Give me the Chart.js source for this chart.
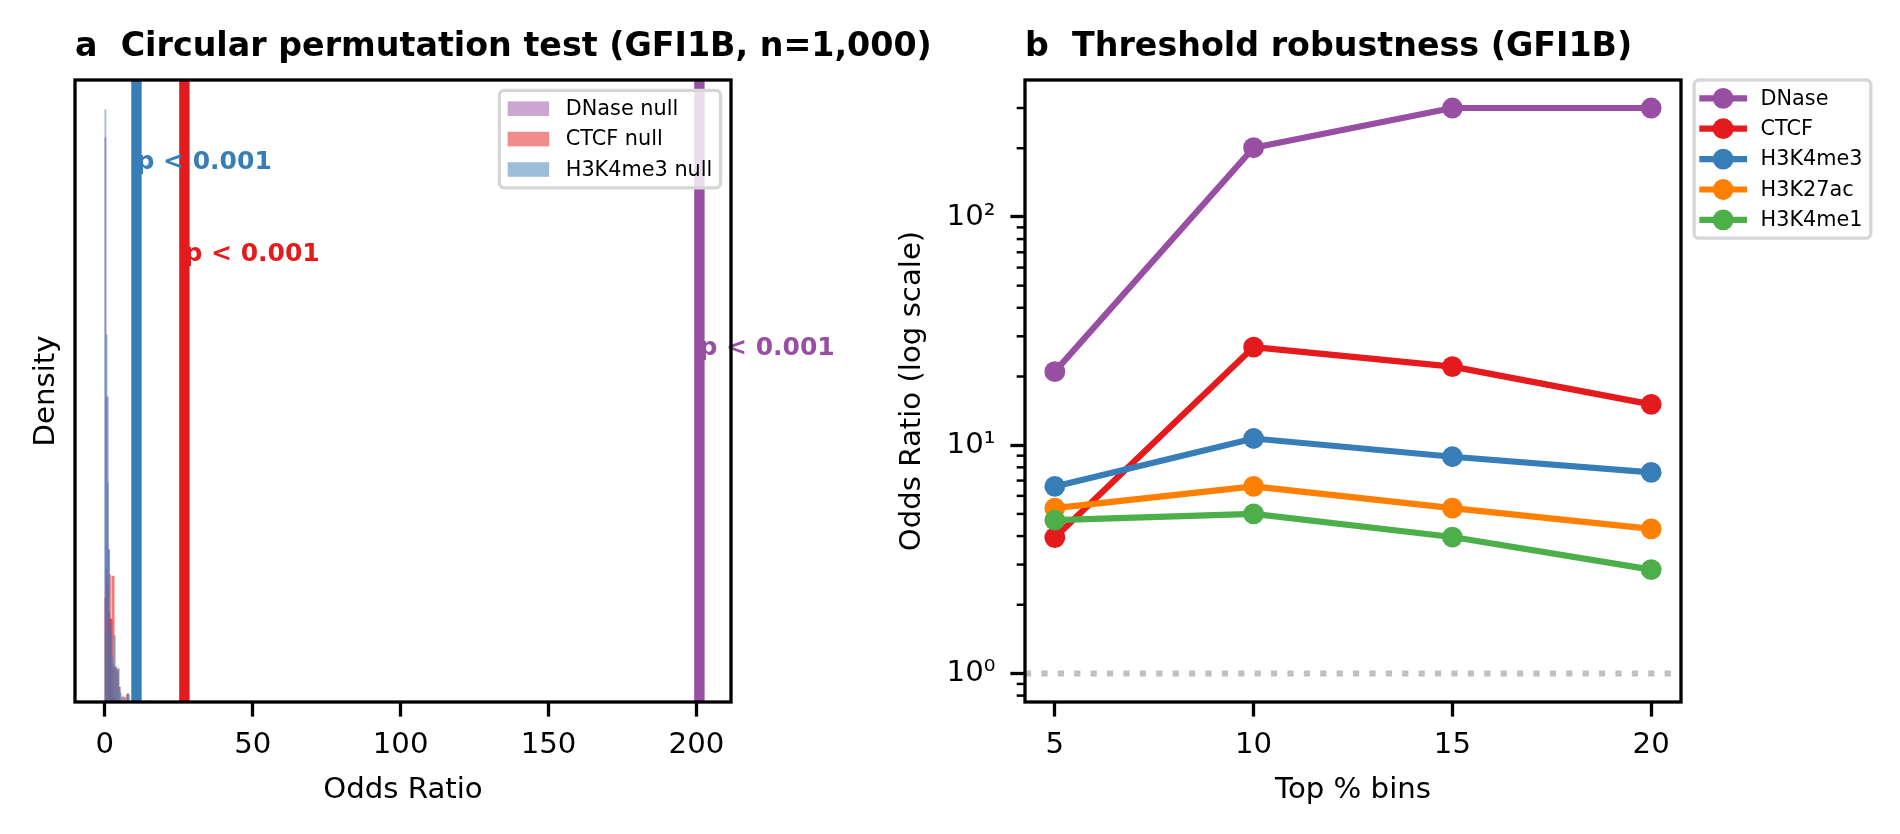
<!DOCTYPE html>
<html>
<head>
<meta charset="utf-8">
<title>GFI1B permutation test and threshold robustness</title>
<script src="https://cdn.jsdelivr.net/npm/chart.js@4.4.1/dist/chart.umd.min.js"></script>
<style>
  html, body { margin: 0; padding: 0; background: #fff; }
  #wrap { position: relative; width: 1900px; height: 834px; overflow: hidden; }
  canvas { position: absolute; top: 0; }
  #permChart { left: 0; }
  #threshChart { left: 860px; }
</style>
</head>
<body>
<div id="wrap">
  <canvas id="permChart" width="1000" height="834"></canvas>
  <canvas id="threshChart" width="1040" height="834"></canvas>
</div>
<script>
// ---- panel a: circular permutation nulls (bin centres, density) ----
const dnaseNullBins = [0.2, 0.6, 1.0, 1.4, 1.8, 2.2, 2.6, 3.0];
const dnaseNullDensity = [3.81, 2.06, 2.06, 1.03, 0.56, 0.56, 0.23, 0.03];
const ctcfNullBins = [0.2, 0.6, 1.0, 1.4, 1.8, 2.2, 2.6, 3.0, 3.4, 3.8, 4.2, 4.6, 5.0, 5.8, 6.6, 7.4, 7.8, 15.4];
const ctcfNullDensity = [0.7, 0.9, 0.8, 0.6, 0.86, 0.56, 0.85, 0.85, 0.23, 0.23, 0.22, 0.22, 0.1, 0.03, 0.03, 0.05, 0.05, 0.01];
const h3k4me3NullBins = [0.2, 0.6, 1.0, 1.4, 1.8, 2.2, 2.6, 3.0, 3.4, 3.8, 4.2, 4.6, 5.0, 5.4, 6.2, 7.0, 7.8, 8.2];
const h3k4me3NullDensity = [4.0, 2.48, 1.48, 1.03, 0.52, 0.45, 0.3, 0.25, 0.45, 0.24, 0.2, 0.23, 0.1, 0.06, 0.04, 0.03, 0.06, 0.05];

const nullLabels = ["DNase null", "CTCF null", "H3K4me3 null"];
const observedOR = [201, 26.9, 10.7];           // DNase, CTCF, H3K4me3
const pLabels = ["p < 0.001", "p < 0.001", "p < 0.001"];
const pLabelHeight = [0.569, 0.719, 0.868];      // fraction of the density axis

// ---- panel b: threshold robustness ----
const topBins = [5, 10, 15, 20];
const markNames = ["DNase", "CTCF", "H3K4me3", "H3K27ac", "H3K4me1"];
const dnaseOR = [21.0, 201, 300, 300];
const ctcfOR = [3.94, 26.9, 22.1, 15.1];
const h3k4me3OR = [6.6, 10.7, 8.9, 7.6];
const h3k27acOR = [5.3, 6.6, 5.3, 4.3];
const h3k4me1OR = [4.7, 5.0, 3.96, 2.85];
const referenceOR = 1;
const majorTicks = [1, 10, 100];
const majorTickLabels = ["10\u2070", "10\u00b9", "10\u00b2"];
const minorTicks = [0.8, 0.9, 2, 3, 4, 5, 6, 7, 8, 9, 20, 30, 40, 50, 60, 70, 80, 90, 200, 300];

const markColors = ["#984ea3", "#e41a1c", "#377eb8", "#ff7f00", "#4daf4a"];
const nullColors = ["rgba(152,78,163,0.5)", "rgba(228,26,28,0.5)", "rgba(55,126,184,0.5)"];

Chart.defaults.font.family = "'DejaVu Sans'";
Chart.defaults.color = "#000";

const FONT = "'DejaVu Sans'";
const TICK_SIZE = 29.2;

// draws the black box around the plot area
function drawFrame(ctx, a) {
  ctx.save();
  ctx.strokeStyle = "#000";
  ctx.lineWidth = 3.3;
  ctx.strokeRect(a.left, a.top, a.right - a.left, a.bottom - a.top);
  ctx.restore();
}

function drawTitle(ctx, a, text) {
  ctx.save();
  ctx.font = "bold 33.3px " + FONT;
  ctx.fillStyle = "#000";
  ctx.textAlign = "left";
  ctx.textBaseline = "alphabetic";
  ctx.fillText(text, a.left, 55.5);
  ctx.restore();
}

// matplotlib-like legend box; handle(ctx, x, yMid, item) draws the key
function drawLegend(ctx, left, top, items, handle, alignRight) {
  const fs = 20.8, pad = 8.3, textH = 20, gap = 10.4, hLen = 41.5, hPad = 16.6;
  ctx.save();
  ctx.font = fs + "px " + FONT;
  const textW = Math.max(...items.map((it) => ctx.measureText(it.label).width));
  const w = pad * 2 + hLen + hPad + textW;
  const h = pad * 2 + items.length * textH + (items.length - 1) * gap;
  if (alignRight) left = left - w;
  ctx.beginPath();
  ctx.roundRect(left, top, w, h, 5);
  ctx.fillStyle = "rgba(255,255,255,0.8)";
  ctx.fill();
  ctx.strokeStyle = "#d6d6d6";
  ctx.lineWidth = 3.3;
  ctx.stroke();
  items.forEach((it, i) => {
    const yMid = top + pad + textH / 2 + i * (textH + gap);
    handle(ctx, left + pad, yMid, it, hLen);
    ctx.fillStyle = "#000";
    ctx.textAlign = "left";
    ctx.textBaseline = "middle";
    ctx.font = fs + "px " + FONT;
    ctx.fillText(it.label, left + pad + hLen + hPad, yMid + 1);
  });
  ctx.restore();
}

// ---------------- panel a ----------------
const permDecor = {
  id: "permDecor",
  afterDatasetsDraw(chart) {
    const { ctx, chartArea: a, scales: { x, y } } = chart;
    ctx.save();
    observedOR.forEach((v, i) => {
      const px = x.getPixelForValue(v);
      ctx.strokeStyle = markColors[i];
      ctx.lineWidth = 10.4;
      ctx.beginPath();
      ctx.moveTo(px, a.top);
      ctx.lineTo(px, a.bottom);
      ctx.stroke();
    });
    ctx.font = "bold 25px " + FONT;
    ctx.textAlign = "left";
    ctx.textBaseline = "middle";
    observedOR.forEach((v, i) => {
      ctx.fillStyle = markColors[i];
      ctx.fillText(pLabels[i], x.getPixelForValue(v), y.getPixelForValue(y.max * pLabelHeight[i]));
    });
    ctx.restore();
  },
  afterDraw(chart) {
    const { ctx, chartArea: a } = chart;
    drawFrame(ctx, a);
    const items = chart.data.datasets.map((d) => ({ label: d.label, color: d.backgroundColor }));
    drawLegend(ctx, a.right - 10.4, a.top + 10.4, items, (c, x0, yMid, it, len) => {
      c.fillStyle = it.color;
      c.fillRect(x0, yMid - 7.3, len, 14.6);
    }, true);
    drawTitle(ctx, a, "a  Circular permutation test (GFI1B, n=1,000)");
  },
};

const nullBins = [dnaseNullBins, ctcfNullBins, h3k4me3NullBins];
const nullDensity = [dnaseNullDensity, ctcfNullDensity, h3k4me3NullDensity];

new Chart(document.getElementById("permChart"), {
  type: "bar",
  data: {
    datasets: nullLabels.map((label, i) => ({
      label: label,
      data: nullBins[i].map((b, j) => ({ x: b, y: nullDensity[i][j] })),
      backgroundColor: nullColors[i],
      borderWidth: 0,
      barPercentage: 1,
      categoryPercentage: 1,
      grouped: false,
      order: 3 - i,
    })),
  },
  options: {
    responsive: false,
    animation: false,
    events: [],
    layout: { padding: { left: 28.5, top: 80, right: 269, bottom: 26.5 } },
    plugins: { legend: { display: false }, tooltip: { enabled: false } },
    scales: {
      x: {
        type: "linear",
        min: -10.08,
        max: 211.68,
        offset: false,
        ticks: { stepSize: 50, includeBounds: false, font: { size: TICK_SIZE }, color: "#000", padding: 11, maxRotation: 0 },
        grid: { display: true, offset: false, drawOnChartArea: false, drawTicks: true, tickLength: 14.6, tickWidth: 3.3, tickColor: "#000" },
        border: { display: false },
        title: { display: true, text: "Odds Ratio", font: { size: TICK_SIZE }, color: "#000", padding: 0 },
        afterFit(s) { s.height = 105.5; },
      },
      y: {
        min: 0,
        max: 4.2,
        ticks: { display: false },
        grid: { display: false },
        border: { display: false },
        title: { display: true, text: "Density", font: { size: TICK_SIZE }, color: "#000", padding: 0 },
        afterFit(s) { s.width = 46.5; },
      },
    },
  },
  plugins: [permDecor],
});

// ---------------- panel b ----------------
const markSeries = [dnaseOR, ctcfOR, h3k4me3OR, h3k27acOR, h3k4me1OR];

const threshDecor = {
  id: "threshDecor",
  beforeDatasetsDraw(chart) {
    const { ctx, chartArea: a, scales: { y } } = chart;
    const py = y.getPixelForValue(referenceOR);
    ctx.save();
    ctx.strokeStyle = "#c0c0c0";
    ctx.lineWidth = 6.2;
    ctx.setLineDash([6.2, 10.2]);
    ctx.beginPath();
    ctx.moveTo(a.left, py);
    ctx.lineTo(a.right, py);
    ctx.stroke();
    ctx.restore();
  },
  afterDraw(chart) {
    const { ctx, chartArea: a, scales: { y } } = chart;
    // minor ticks of the log axis
    ctx.save();
    ctx.strokeStyle = "#000";
    ctx.lineWidth = 2.5;
    minorTicks.forEach((v) => {
      if (v < y.min || v > y.max) return;
      const py = y.getPixelForValue(v);
      ctx.beginPath();
      ctx.moveTo(a.left, py);
      ctx.lineTo(a.left - 8.3, py);
      ctx.stroke();
    });
    ctx.restore();
    drawFrame(ctx, a);
    const items = chart.data.datasets.map((d) => ({ label: d.label, color: d.borderColor }));
    drawLegend(ctx, a.right + 0.02 * (a.right - a.left), a.top, items, (c, x0, yMid, it, len) => {
      c.strokeStyle = it.color;
      c.lineWidth = 6.2;
      c.lineCap = "square";
      c.beginPath();
      c.moveTo(x0, yMid);
      c.lineTo(x0 + len, yMid);
      c.stroke();
      c.fillStyle = it.color;
      c.beginPath();
      c.arc(x0 + len / 2, yMid, 10.4, 0, Math.PI * 2);
      c.fill();
    }, false);
    drawTitle(ctx, a, "b  Threshold robustness (GFI1B)");
  },
};

new Chart(document.getElementById("threshChart"), {
  type: "line",
  data: {
    datasets: markNames.map((name, i) => ({
      label: name,
      data: topBins.map((b, j) => ({ x: b, y: markSeries[i][j] })),
      borderColor: markColors[i],
      backgroundColor: markColors[i],
      pointBackgroundColor: markColors[i],
      borderWidth: 6.2,
      borderJoinStyle: "round",
      pointRadius: 10.4,
      pointBorderWidth: 0,
      pointHoverRadius: 10.4,
      tension: 0,
      order: 5 - i,
    })),
  },
  options: {
    responsive: false,
    animation: false,
    events: [],
    layout: { padding: { left: 35, top: 80, right: 219, bottom: 26.5 } },
    plugins: { legend: { display: false }, tooltip: { enabled: false } },
    scales: {
      x: {
        type: "linear",
        min: 4.25,
        max: 20.75,
        ticks: { stepSize: 5, includeBounds: false, font: { size: TICK_SIZE }, color: "#000", padding: 11, maxRotation: 0 },
        grid: { display: true, drawOnChartArea: false, drawTicks: true, tickLength: 14.6, tickWidth: 3.3, tickColor: "#000" },
        border: { display: false },
        title: { display: true, text: "Top % bins", font: { size: TICK_SIZE }, color: "#000", padding: 0 },
        afterFit(s) { s.height = 105.5; },
      },
      y: {
        type: "logarithmic",
        min: 0.75,
        max: 398,
        afterBuildTicks(s) { s.ticks = majorTicks.map((v) => ({ value: v })); },
        ticks: {
          font: { size: TICK_SIZE },
          color: "#000",
          padding: 15,
          callback: (v) => {
            const k = majorTicks.indexOf(v);
            return k >= 0 ? majorTickLabels[k] : "";
          },
        },
        grid: { display: true, drawOnChartArea: false, drawTicks: true, tickLength: 14.6, tickWidth: 3.3, tickColor: "#000" },
        border: { display: false },
        title: { display: true, text: "Odds Ratio (log scale)", font: { size: TICK_SIZE }, color: "#000", padding: 0 },
        afterFit(s) { s.width = 130; },
      },
    },
  },
  plugins: [threshDecor],
});
</script>
</body>
</html>
